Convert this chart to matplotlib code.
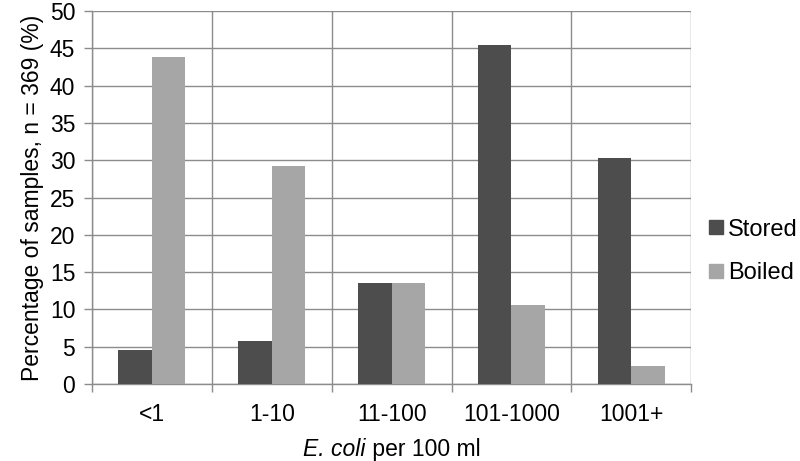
import matplotlib
matplotlib.use("Agg")
import matplotlib.pyplot as plt
from matplotlib.lines import Line2D
from matplotlib.offsetbox import TextArea, HPacker, AnnotationBbox
import numpy as np

plt.rcParams["font.family"] = ["Liberation Sans", "DejaVu Sans"]

categories = ["<1", "1-10", "11-100", "101-1000", "1001+"]
stored = [4.6, 5.8, 13.5, 45.5, 30.3]
boiled = [43.8, 29.2, 13.6, 10.6, 2.4]

STORED_C = "#4d4d4d"
BOILED_C = "#a6a6a6"
GRID_C = "#8c8c8c"
FS = 16.5

fig = plt.figure(figsize=(8, 4.61), dpi=100)
ax = fig.add_axes([0.115, 0.167, 0.749, 0.809])

x = np.arange(len(categories))
w = 0.28
ax.bar(x - w / 2, stored, width=w, color=STORED_C, zorder=3, label="Stored")
ax.bar(x + w / 2, boiled, width=w, color=BOILED_C, zorder=3, label="Boiled")

ax.set_xlim(-0.5, len(categories) - 0.5)
ax.set_ylim(0, 50)
ax.set_yticks(np.arange(0, 51, 5))
ax.set_xticks(x)
ax.set_xticklabels(categories)
ax.set_xticks(np.arange(-0.5, len(categories), 1), minor=True)

ax.grid(axis="y", which="major", color=GRID_C, linewidth=1.0, zorder=0)
ax.grid(axis="x", which="minor", color=GRID_C, linewidth=1.0, zorder=0)
ax.tick_params(axis="x", which="major", length=0, labelsize=FS, pad=14)
ax.tick_params(axis="x", which="minor", length=6, color=GRID_C, width=1.0)
ax.tick_params(axis="y", length=6, color=GRID_C, width=1.0, labelsize=FS, pad=6)

for side in ["top", "right"]:
    ax.spines[side].set_visible(False)
for side in ["left", "bottom"]:
    ax.spines[side].set_color(GRID_C)
    ax.spines[side].set_linewidth(1.0)

ax.set_ylabel("Percentage of samples, n = 369 (%)", fontsize=FS, labelpad=4)

# x label with italic species name
xl_it = TextArea("E. coli", textprops=dict(fontsize=FS, fontstyle="italic"))
xl_rm = TextArea(" per 100 ml", textprops=dict(fontsize=FS))
xl = HPacker(children=[xl_it, xl_rm], align="baseline", pad=0, sep=0)
ab = AnnotationBbox(xl, (0.5, -0.175), xycoords="axes fraction",
                    frameon=False, box_alignment=(0.5, 0.5))
ax.add_artist(ab)

handles = [Line2D([], [], marker="s", linestyle="none", markersize=10,
                  color=STORED_C, label="Stored"),
           Line2D([], [], marker="s", linestyle="none", markersize=10,
                  color=BOILED_C, label="Boiled")]
fig.legend(handles=handles, loc="center left", bbox_to_anchor=(0.886, 0.455),
           frameon=False, fontsize=17, handlelength=0.6, handletextpad=0.2,
           labelspacing=0.9, borderpad=0, borderaxespad=0)

fig.savefig("out.png", dpi=100)
